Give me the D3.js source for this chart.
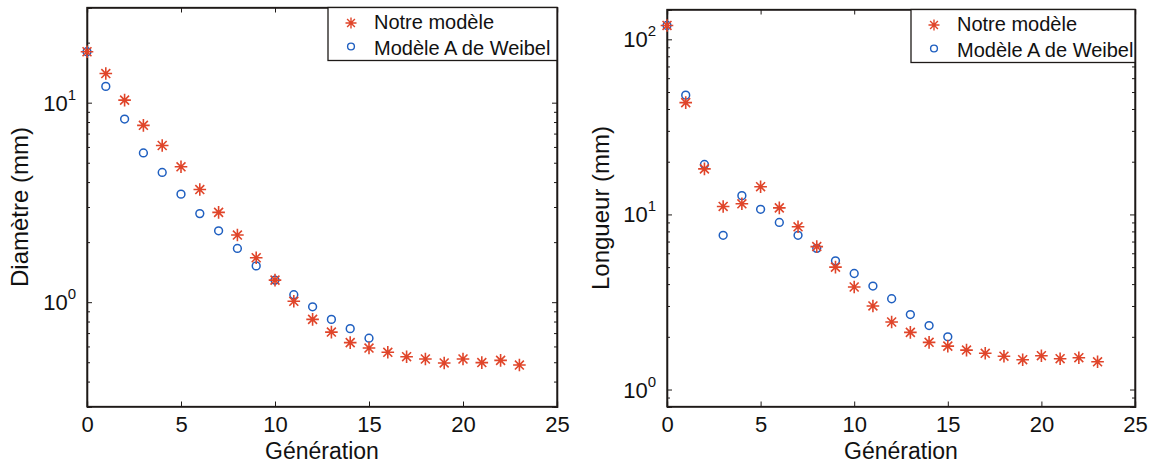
<!DOCTYPE html>
<html><head><meta charset="utf-8">
<script src="https://cdn.jsdelivr.net/npm/d3@7"></script>
<style>body{margin:0;background:#fff}svg{display:block}text{font-family:"Liberation Sans",Arial,sans-serif;fill:#111}</style>
</head><body>
<svg id="c" width="1155" height="465"></svg>
<script>
const generations = [0,1,2,3,4,5,6,7,8,9,10,11,12,13,14,15,16,17,18,19,20,21,22,23];
const diamNotre  = [18.0,14.0,10.3,7.7,6.1,4.77,3.67,2.82,2.17,1.67,1.29,1.01,0.82,0.708,0.627,0.589,0.561,0.533,0.519,0.496,0.519,0.498,0.511,0.484];
const diamWeibel = [18.0,12.07,8.28,5.6,4.47,3.48,2.78,2.28,1.86,1.52,1.29,1.09,0.948,0.82,0.737,0.66];
const lenNotre   = [120,43.5,18.2,11.1,11.5,14.4,10.9,8.5,6.55,5.0,3.85,3.0,2.43,2.12,1.86,1.77,1.68,1.61,1.55,1.48,1.56,1.50,1.52,1.44];
const lenWeibel  = [120,48.0,19.3,7.6,12.8,10.7,9.0,7.6,6.4,5.43,4.6,3.9,3.3,2.68,2.32,2.0];
const xTicks = [0,5,10,15,20,25];
const seriesNames = ["Notre modèle","Modèle A de Weibel"];
const xLabel = "Génération";

const svg = d3.select("#c");
const starColor = "#e0452a", circColor = "#1f5fc0", axisColor = "#1e1a18";

function starPath(r){
  const d = r*Math.SQRT1_2;
  return `M${-r},0L${r},0M0,${-r}L0,${r}M${-d},${-d}L${d},${d}M${-d},${d}L${d},${-d}`;
}

function panel(o){
  const g = svg.append("g");
  const x = d3.scaleLinear().domain([0,25]).range([o.left,o.right]);
  const y = d3.scaleLog().domain(o.yDomain).range([o.bottom,o.top]);
  const minors = [];
  const e0 = Math.floor(Math.log10(o.yDomain[0])), e1 = Math.ceil(Math.log10(o.yDomain[1]));
  for(let e=e0;e<=e1;e++) for(let m=2;m<=9;m++){const v=m*Math.pow(10,e); if(v>=o.yDomain[0]&&v<=o.yDomain[1]) minors.push(v);}
  g.append("g").attr("transform",`translate(0,${o.bottom})`)
    .call(d3.axisBottom(x).tickValues(xTicks).tickSize(-5).tickPadding(10).tickFormat(d3.format("d")))
    .attr("font-size",22).attr("font-family","Liberation Sans, Arial, sans-serif");
  g.append("g").attr("transform",`translate(0,${o.top})`)
    .call(d3.axisTop(x).tickValues(xTicks).tickSize(-5).tickFormat(""));
  g.append("g").attr("transform",`translate(${o.left},0)`)
    .call(d3.axisLeft(y).tickValues(o.yMajor).tickSize(-5).tickFormat(""));
  g.append("g").attr("transform",`translate(${o.left},0)`)
    .call(d3.axisLeft(y).tickValues(minors).tickSize(-3).tickFormat(""));
  g.append("g").attr("transform",`translate(${o.right},0)`)
    .call(d3.axisRight(y).tickValues(o.yMajor).tickSize(-5).tickFormat(""));
  g.append("g").attr("transform",`translate(${o.right},0)`)
    .call(d3.axisRight(y).tickValues(minors).tickSize(-3).tickFormat(""));
  g.selectAll(".domain").attr("stroke",axisColor).attr("stroke-width",1.3);
  g.selectAll(".tick line").attr("stroke",axisColor).attr("stroke-width",1);
  g.selectAll(".tick text").attr("fill","#111");
  g.append("rect").attr("x",o.left).attr("y",o.top).attr("width",o.right-o.left).attr("height",o.bottom-o.top)
    .attr("fill","none").attr("stroke",axisColor).attr("stroke-width",1.3);
  o.yMajor.forEach(v=>{
    const t = g.append("text").attr("x",o.left-11).attr("y",y(v)+8).attr("text-anchor","end").attr("font-size",22);
    t.append("tspan").text("10");
    t.append("tspan").attr("dy",-11).attr("font-size",15).text(Math.round(Math.log10(v)));
  });
  g.append("text").attr("x",(o.left+o.right)/2).attr("y",459).attr("text-anchor","middle").attr("font-size",23).text(xLabel);
  g.append("text").attr("transform",`translate(${o.ylabX},${(o.top+o.bottom)/2}) rotate(-90)`).attr("text-anchor","middle")
    .attr("font-size",24).text(o.yLabel);
  g.append("g").selectAll("circle").data(o.weibel).join("circle")
    .attr("cx",(d,i)=>x(generations[i])).attr("cy",d=>y(d)).attr("r",3.9)
    .attr("fill","none").attr("stroke",circColor).attr("stroke-width",1.5);
  g.append("g").selectAll("path").data(o.notre).join("path")
    .attr("transform",(d,i)=>`translate(${x(generations[i])},${y(d)})`).attr("d",starPath(6.3))
    .attr("stroke",starColor).attr("stroke-width",1.6).attr("fill","none");
  const lg = g.append("g");
  lg.append("rect").attr("x",o.legX).attr("y",o.top).attr("width",o.right-o.legX).attr("height",o.legBottom-o.top)
    .attr("fill","#fff").attr("stroke",axisColor).attr("stroke-width",1.3);
  lg.append("path").attr("transform",`translate(${o.legX+23},${o.top+15.5})`).attr("d",starPath(5.5))
    .attr("stroke",starColor).attr("stroke-width",1.4);
  lg.append("circle").attr("cx",o.legX+23).attr("cy",o.top+39).attr("r",3.4).attr("fill","none")
    .attr("stroke",circColor).attr("stroke-width",1.4);
  lg.append("text").attr("x",o.legX+46).attr("y",o.top+21).attr("font-size",20).text(seriesNames[0]);
  lg.append("text").attr("x",o.legX+46).attr("y",o.top+47.5).attr("font-size",20).text(seriesNames[1]);
}

panel({left:87,right:557,top:7.5,bottom:406.5,yDomain:[0.3,30],yMajor:[1,10],yLabel:"Diamètre (mm)",ylabX:28,
  notre:diamNotre,weibel:diamWeibel,legX:328,legBottom:60.5});
panel({left:667,right:1135,top:9.5,bottom:406.5,yDomain:[0.8,148],yMajor:[1,10,100],yLabel:"Longueur (mm)",ylabX:609,
  notre:lenNotre,weibel:lenWeibel,legX:911,legBottom:62.5});
</script>
</body></html>
